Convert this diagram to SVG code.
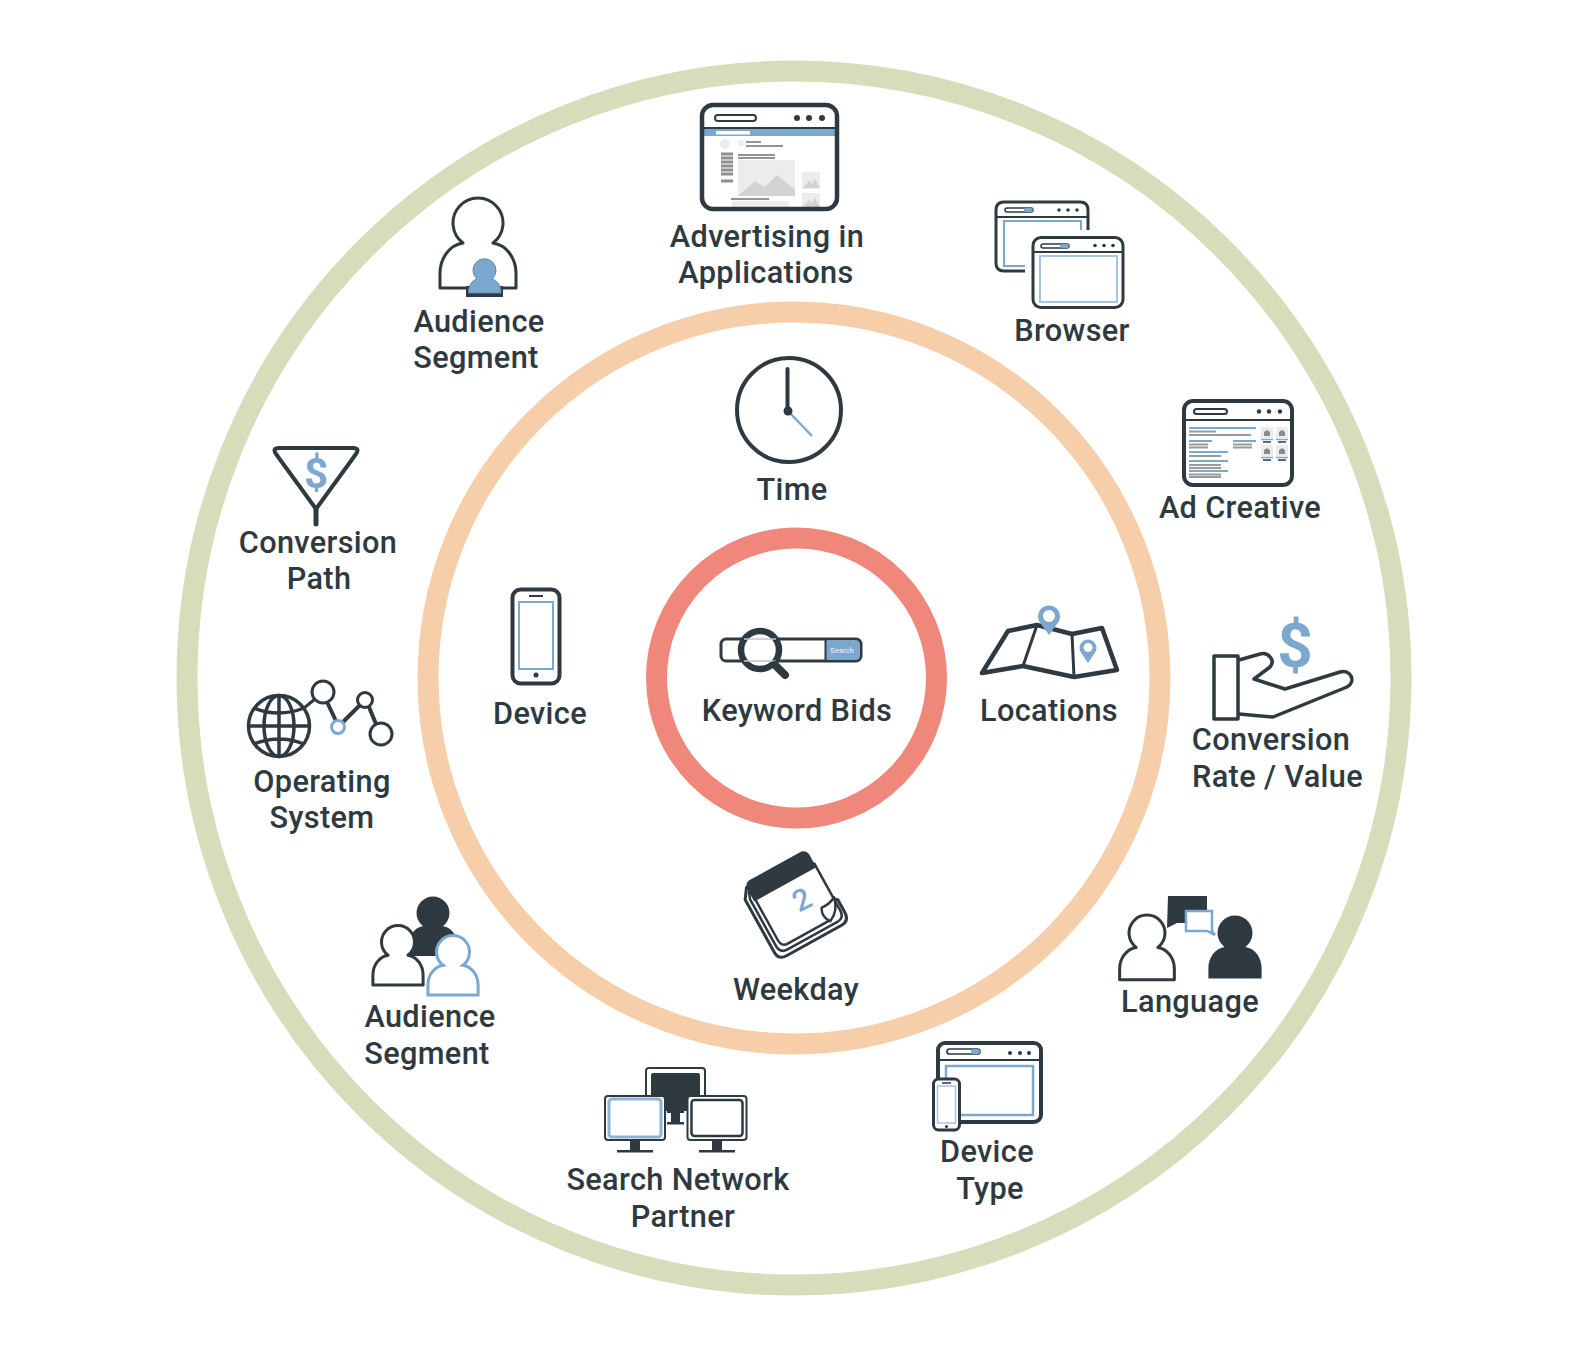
<svg xmlns="http://www.w3.org/2000/svg" width="1572" height="1362" viewBox="0 0 1572 1362">
<style>
text{font-family:Roboto,"Liberation Sans",sans-serif;font-weight:500;font-size:30.700px;fill:#2e3a40;text-anchor:middle;letter-spacing:.35px}
.ring{fill:none;stroke-width:21}
.d{fill:none;stroke:#2e3a40;stroke-linejoin:round}
.w{fill:#fff;stroke:#2e3a40;stroke-linejoin:round}
.k{fill:#2e3a40}
.b{fill:none;stroke:#7ba8cf}
.bf{fill:#7ba8cf}
.g1{fill:#ececec}
.g2{fill:#d2d3d1}
.ln{stroke:#6f6f6f;stroke-width:1.300;fill:none}
.p{vector-effect:non-scaling-stroke}
text.usd{font-weight:700;fill:#7ba8cf;letter-spacing:0}
</style>
<defs>
<path id="person" class="p" d="M-15 20A25 25 0 1 1 15 20C29 22 38 36 38 50V65H-38V50C-38 36-29 22-15 20Z"/>
<clipPath id="advClip"><rect x="704" y="107" width="131" height="100" rx="9"/></clipPath>
</defs>
<rect width="1572" height="1362" fill="#fff"/>
<g id="rings">
<circle class="ring" cx="794" cy="678" r="607" stroke="#d8dcba"/>
<circle class="ring" cx="794" cy="678" r="366" stroke="#f6cfaa"/>
<circle class="ring" cx="796.500" cy="678" r="140" stroke="#f0877b"/>
</g>
<g id="connectors"/>

<g id="advertising">
<g clip-path="url(#advClip)">
<rect x="704" y="129" width="131" height="7" class="bf"/>
<rect x="716" y="131" width="34" height="3.500" fill="#fff"/>
<circle cx="725" cy="144" r="5" class="g1"/><circle cx="741" cy="143" r="3" class="g1"/>
<path class="ln" d="M746 142H761M746 146H783M738 155H775M738 158H775"/>
<path d="M721 154H733M721 158H733M721 162H733M721 166H733M721 170H733M721 174H733M721 181H733" stroke="#8f8f8f" stroke-width="3"/>
<rect x="738" y="160" width="57" height="36" class="g1"/>
<path class="g2" d="M738 196L755 181 765 187 777 175 795 190V196Z"/>
<rect x="802" y="172" width="18" height="17" class="g1"/><path class="g2" d="M803 188L809 181 812 184 815 179 820 188Z"/>
<rect x="802" y="193" width="18" height="15" class="g1"/><path class="g2" d="M803 207L809 200 812 203 815 198 820 207Z"/>
<path class="ln" d="M731 199H769"/>
<rect x="732" y="201" width="57" height="6" class="g1"/>
</g>
<rect class="d" x="702" y="105" width="135" height="104" rx="11" stroke-width="4.500"/>
<path class="d" d="M703 128H837" stroke-width="2"/>
<rect class="d" x="715" y="115" width="41" height="6" rx="3" stroke-width="2"/>
<g class="k"><circle cx="797" cy="118" r="3"/><circle cx="809" cy="118" r="3"/><circle cx="822" cy="118" r="3"/></g>
<text x="767" y="247">Advertising in</text><text x="766" y="283">Applications</text>
</g>

<g id="browser">
<path class="d" stroke-width="3" d="M1025 271H1004Q996 271 996 263V210Q996 202 1004 202H1080Q1088 202 1088 210V230"/>
<path class="d" stroke-width="2" d="M997 217H1087"/>
<path class="b" stroke-width="2" d="M1025 266H1004V221H1081V230"/>
<rect x="1005" y="208" width="28" height="4" rx="2" class="w" stroke-width="1.500"/><rect x="1024" y="208" width="9" height="4" rx="2" class="bf"/>
<g class="k"><circle cx="1059" cy="210" r="1.800"/><circle cx="1068" cy="210" r="1.800"/><circle cx="1077" cy="210" r="1.800"/></g>
<rect class="w" x="1033" y="237.500" width="90" height="70" rx="8" stroke-width="3"/>
<path class="d" stroke-width="2" d="M1034 252H1122"/>
<rect x="1040" y="256" width="77" height="46" fill="none" stroke="#a8c4de" stroke-width="2"/>
<rect x="1041" y="244" width="28" height="4" rx="2" class="w" stroke-width="1.500"/><rect x="1060" y="244" width="9" height="4" rx="2" class="bf"/>
<g class="k"><circle cx="1095" cy="245.500" r="1.800"/><circle cx="1104" cy="245.500" r="1.800"/><circle cx="1113" cy="245.500" r="1.800"/></g>
<text x="1072" y="341">Browser</text>
</g>

<g id="ad-creative">
<rect class="d" x="1184" y="401" width="108" height="84" rx="9" stroke-width="4"/>
<path class="d" stroke-width="2" d="M1185 420H1291"/>
<rect class="d" x="1194" y="409" width="33" height="5" rx="2.500" stroke-width="2"/>
<g class="k"><circle cx="1259" cy="411.500" r="2.200"/><circle cx="1269" cy="411.500" r="2.200"/><circle cx="1280" cy="411.500" r="2.200"/></g>
<path class="b" stroke-width="2" d="M1189 428H1256M1189 441H1212M1233 441H1256M1189 452H1228M1189 461H1228M1189 471H1228"/>
<path stroke="#9a9a9a" fill="none" stroke-width="1.800" d="M1189 431.500H1216M1189 435H1251M1189 444.500H1208M1189 447.500H1208M1233 444.500H1252M1233 447.500H1252M1189 456H1221M1189 465H1221M1189 468H1221M1189 477H1221M1189 474.500H1221"/>
<g class="g1"><rect x="1261" y="427" width="12" height="11"/><rect x="1276" y="427" width="12" height="11"/><rect x="1261" y="445" width="12" height="11"/><rect x="1276" y="445" width="12" height="11"/></g>
<g fill="#8b8b8b"><path d="M1264 436V432L1267 430 1270 432V436Z"/><path d="M1279 436V432L1282 430 1285 432V436Z"/><path d="M1264 454V450L1267 448 1270 450V454Z"/><path d="M1279 454V450L1282 448 1285 450V454Z"/></g>
<path class="b" stroke-width="1.400" d="M1261 439.500H1273M1276 439.500H1288M1261 457.500H1273M1276 457.500H1288"/>
<path class="d" stroke-width="1.400" d="M1263 442H1271M1278 442H1286M1263 460H1271M1278 460H1286"/>
<text x="1240" y="518">Ad Creative</text>
</g>

<g id="audience-segment-top">
<use href="#person" transform="translate(478 223)" class="w" stroke-width="3"/>
<path class="k" d="M466 286H503V297H466Z"/>
<path class="bf" stroke="#5f88ad" stroke-width="1" d="M477 279A11.500 11.500 0 1 1 492 279C498 281 501 286 501 293H468.500C468.500 286 471 281 477 279Z"/>
<text x="479" y="332">Audience</text><text x="476" y="368">Segment</text>
</g>

<g id="time">
<circle class="d" cx="789" cy="410" r="52" stroke-width="4"/>
<path class="d" stroke-width="4" stroke-linecap="round" d="M787.500 369V410"/>
<path class="b" stroke-width="2.500" d="M788 411L812 436"/>
<circle class="k" cx="788" cy="411" r="4.500"/>
<text x="792" y="500">Time</text>
</g>

<g id="conversion-path">
<path class="d" stroke-width="4" d="M279 448H353Q360 448 356 454L316 509 276 454Q272 448 279 448Z"/>
<path class="d" stroke-width="5" stroke-linecap="round" d="M316 508V524"/>
<text class="usd" x="316" y="488" style="font-size:42px">$</text>
<text x="318" y="553">Conversion</text><text x="319" y="589">Path</text>
</g>

<g id="device">
<rect class="d" x="512.500" y="589.500" width="47" height="94" rx="8" stroke-width="4"/>
<rect class="b" x="519" y="602" width="34" height="67" stroke-width="2"/>
<path class="d" stroke-width="2" d="M529 596H543"/>
<circle class="k" cx="536" cy="675" r="2.500"/>
<text x="540" y="724">Device</text>
</g>

<g id="keyword-bids">
<rect class="w" x="721" y="639" width="140" height="22" rx="5" stroke-width="3"/>
<path class="bf" d="M826 640.500H855Q859.500 640.500 859.500 645V655Q859.500 659.500 855 659.500H826Z"/>
<path class="d" stroke-width="2" d="M825.500 640V660"/>
<text x="842" y="653" style="font-size:7.500px;fill:#dfeaf3;letter-spacing:0">Search</text>
<circle cx="760" cy="650" r="19" style="fill:#fff" stroke="#2e3a40" stroke-width="6.500"/>
<path d="M744 639H776M744 661H776" stroke="#c4c8ca" stroke-width="1.500" fill="none"/>
<path class="d" stroke-width="8" stroke-linecap="round" d="M775 665L785 675"/>
<text x="797" y="721">Keyword Bids</text>
</g>

<g id="locations">
<path class="d" stroke-width="4.500" d="M982 673L1008 631 1037 625 1072 634 1102 628 1117 670 1074 677 1023 666Z"/>
<path class="d" stroke-width="3" d="M1037 625L1023 666M1072 634L1074 677"/>
<path class="bf" fill-rule="evenodd" d="M1049 635L1041 624A11 11 0 1 1 1057 624ZM1049 610A6 6 0 1 0 1049 622 6 6 0 1 0 1049 610Z"/>
<path class="bf" fill-rule="evenodd" d="M1088 663L1082 654A8.500 8.500 0 1 1 1094 654ZM1088 643A4.500 4.500 0 1 0 1088 652 4.500 4.500 0 1 0 1088 643Z"/>
<text x="1049" y="721">Locations</text>
</g>

<g id="conversion-rate">
<rect class="d" x="1214" y="656" width="24" height="63" stroke-width="3.500"/>
<path class="d" stroke-width="3.500" d="M1239 660L1260 654C1268 652 1276 660 1270 667L1254 679 1285 689 1340 672C1350 669 1357 681 1347 687L1273 717 1239 714"/>
<text class="usd" x="1295" y="667" style="font-size:62px">$</text>
<text x="1271" y="750">Conversion</text><text x="1277.500" y="787">Rate / Value</text>
</g>

<g id="operating-system">
<path class="d" stroke-width="3" d="M304 708L315 699"/>
<path class="d" stroke-width="4" d="M327 702L336 721M343 722L360 705M369 707L376 724"/>
<g class="d" stroke-width="3.500">
<circle cx="279" cy="726" r="30.500"/><ellipse cx="279" cy="726" rx="15" ry="30.500"/>
<path d="M279 695.500V756.500M248.500 726H309.500M254 708Q279 718 304 708M254 744Q279 734 304 744"/>
</g>
<circle class="w" cx="323" cy="692" r="11" stroke-width="3"/>
<circle cx="338" cy="727" r="6.500" fill="#fff" stroke="#7ba8cf" stroke-width="3"/>
<circle class="w" cx="365" cy="700" r="7.500" stroke-width="3"/>
<circle class="w" cx="381" cy="734" r="11" stroke-width="3"/>
<text x="322" y="792">Operating</text><text x="322" y="828">System</text>
</g>

<g id="weekday">
<g transform="translate(795 903) rotate(-29)">
<path class="w" stroke-width="3" d="M-35 -37L-42 -27V33Q-42 42-33 42H30Q39 42 39 32V18Z"/>
<path class="w" stroke-width="2.500" d="M-35 -32L-37.500 -25V28Q-37.500 37-29 37H28Q36 37 36 28V14Z"/>
<path class="w" stroke-width="2.500" d="M-33 -25V24Q-33 32-26 32H22L36 15V-25Z"/>
<path class="k" d="M-35 -34Q-35 -42-28 -42H28Q36 -42 36 -34V-21H-35Z"/>
<path class="w" stroke-width="2.500" d="M37 14Q29 18 21 17Q16 25 22 33Q34 28 37 14Z"/>
</g>
<text transform="translate(802 900) rotate(-27)" x="0" y="10" style="font-size:30px;fill:#7ba8cf;letter-spacing:0">2</text>
<text x="796" y="1000">Weekday</text>
</g>

<g id="language">
<path class="k" d="M1168 896H1207V923H1177L1167 928Z"/>
<path fill="#fff" stroke="#7ba8cf" stroke-width="2.500" d="M1186 911H1212V931L1215 935 1207 931H1186Z"/>
<use href="#person" transform="translate(1147 933) scale(.72)" class="w" stroke-width="3"/>
<use href="#person" transform="translate(1235 933) scale(.7)" class="k"/>
<text x="1190" y="1012">Language</text>
</g>

<g id="audience-segment-bottom">
<use href="#person" transform="translate(433 913) scale(.66)" class="k"/>
<use href="#person" transform="translate(398 942) scale(.66)" class="w" stroke-width="3"/>
<use href="#person" transform="translate(453 952) scale(.66)" fill="#fff" stroke="#7ba8cf" stroke-width="3"/>
<text x="430" y="1027">Audience</text><text x="427" y="1064">Segment</text>
</g>

<g id="search-network-partner">
<rect class="w" x="646" y="1068" width="59" height="42" rx="3" stroke-width="2"/>
<rect class="k" x="651" y="1073" width="49" height="36" rx="2"/>
<path class="k" d="M667 1110H684V1113H680V1122H684V1124.500H667V1122H671V1113H667Z"/>
<rect class="w" x="605" y="1096" width="60" height="44" rx="3" stroke-width="2"/>
<rect x="609" y="1099" width="52" height="38" rx="3" fill="#fff" stroke="#8fb3d4" stroke-width="3"/>
<path class="k" d="M630 1141H640V1150H630ZM617 1150H653V1152.500H617Z"/>
<rect class="w" x="687.500" y="1096" width="59" height="44" rx="3" stroke-width="2"/>
<rect class="w" x="691.500" y="1100" width="51" height="36" rx="3" stroke-width="2.500"/>
<path class="k" d="M712 1141H722V1150H712ZM699 1150H735V1152.500H699Z"/>
<text x="678" y="1190">Search Network</text><text x="683" y="1227">Partner</text>
</g>

<g id="device-type">
<rect class="d" x="938" y="1043" width="103" height="79" rx="7" stroke-width="4"/>
<path class="d" stroke-width="2" d="M939 1060H1040"/>
<rect x="947" y="1049" width="33" height="5" rx="2.500" class="w" stroke-width="1.700"/><rect x="971" y="1049" width="9" height="5" rx="2.500" class="bf"/>
<g class="k"><circle cx="1010" cy="1053" r="2"/><circle cx="1020" cy="1053" r="2"/><circle cx="1029" cy="1053" r="2"/></g>
<rect class="b" x="946" y="1066" width="87" height="49" stroke-width="2.500"/>
<rect class="w" x="933.500" y="1079" width="26" height="51" rx="5" stroke-width="3"/>
<rect x="937.500" y="1086" width="18" height="37" fill="none" stroke="#a8c4de" stroke-width="1.500"/>
<path class="d" stroke-width="1.500" d="M942 1083H951"/>
<circle class="k" cx="946.500" cy="1126.500" r="1.500"/>
<text x="987" y="1162">Device</text><text x="990" y="1199">Type</text>
</g>
</svg>
